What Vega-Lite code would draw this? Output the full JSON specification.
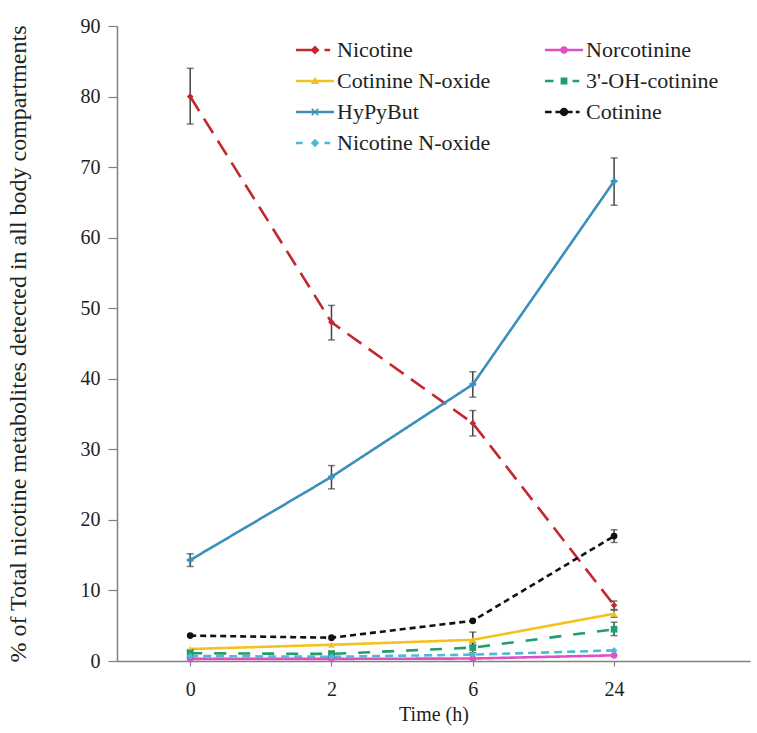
{
  "$schema": "https://vega.github.io/schema/vega-lite/v6.json",
  "width": 633,
  "height": 635,
  "autosize": {"type": "none"},
  "padding": {"left": 117, "top": 26, "right": 7, "bottom": 72},
  "background": "white",
  "config": {
    "view": {"stroke": null},
    "font": "Liberation Serif",
    "axis": {"labelFont": "Liberation Serif", "titleFont": "Liberation Serif", "labelColor": "#222", "titleColor": "#222", "titleFontWeight": "normal", "domainColor": "#808080", "domainWidth": 1.5, "tickColor": "#808080", "tickWidth": 1.2, "grid": false}
  },
  "datasets": {
    "pts": [
      {"series": "Nicotine", "time": "0", "value": 80.0, "lo": 76.1, "hi": 84.0},
      {"series": "Nicotine", "time": "2", "value": 48.0, "lo": 45.5, "hi": 50.4},
      {"series": "Nicotine", "time": "6", "value": 33.7, "lo": 31.9, "hi": 35.5},
      {"series": "Nicotine", "time": "24", "value": 7.9, "lo": 7.3, "hi": 8.5},
      {"series": "Norcotinine", "time": "0", "value": 0.3, "lo": null, "hi": null},
      {"series": "Norcotinine", "time": "2", "value": 0.3, "lo": null, "hi": null},
      {"series": "Norcotinine", "time": "6", "value": 0.35, "lo": null, "hi": null},
      {"series": "Norcotinine", "time": "24", "value": 0.8, "lo": null, "hi": null},
      {"series": "Cotinine N-oxide", "time": "0", "value": 1.7, "lo": null, "hi": null},
      {"series": "Cotinine N-oxide", "time": "2", "value": 2.3, "lo": null, "hi": null},
      {"series": "Cotinine N-oxide", "time": "6", "value": 3.0, "lo": 2.2, "hi": 4.1},
      {"series": "Cotinine N-oxide", "time": "24", "value": 6.7, "lo": 6.2, "hi": 7.2},
      {"series": "3'-OH-cotinine", "time": "0", "value": 1.1, "lo": 0.5, "hi": 1.6},
      {"series": "3'-OH-cotinine", "time": "2", "value": 1.0, "lo": 0.6, "hi": 1.4},
      {"series": "3'-OH-cotinine", "time": "6", "value": 1.9, "lo": 1.2, "hi": 2.6},
      {"series": "3'-OH-cotinine", "time": "24", "value": 4.5, "lo": 3.6, "hi": 5.5},
      {"series": "HyPyBut", "time": "0", "value": 14.3, "lo": 13.4, "hi": 15.2},
      {"series": "HyPyBut", "time": "2", "value": 26.1, "lo": 24.4, "hi": 27.7},
      {"series": "HyPyBut", "time": "6", "value": 39.2, "lo": 37.4, "hi": 41.0},
      {"series": "HyPyBut", "time": "24", "value": 68.0, "lo": 64.6, "hi": 71.3},
      {"series": "Cotinine", "time": "0", "value": 3.6, "lo": null, "hi": null},
      {"series": "Cotinine", "time": "2", "value": 3.3, "lo": null, "hi": null},
      {"series": "Cotinine", "time": "6", "value": 5.7, "lo": null, "hi": null},
      {"series": "Cotinine", "time": "24", "value": 17.7, "lo": 16.8, "hi": 18.6},
      {"series": "Nicotine N-oxide", "time": "0", "value": 0.7, "lo": null, "hi": null},
      {"series": "Nicotine N-oxide", "time": "2", "value": 0.6, "lo": null, "hi": null},
      {"series": "Nicotine N-oxide", "time": "6", "value": 0.9, "lo": null, "hi": null},
      {"series": "Nicotine N-oxide", "time": "24", "value": 1.5, "lo": null, "hi": null}
    ]
  },
  "data": {"name": "pts"},
  "encoding": {
    "x": {"field": "time", "type": "ordinal", "scale": {"type": "point", "domain": ["0", "2", "6", "24"], "padding": 0.74, "align": 0.35}, "axis": {"title": "Time (h)", "labelAngle": 0, "labelFontSize": 20, "titleFontSize": 20, "labelPadding": 13, "titlePadding": 5, "tickSize": 5}}
  },
  "layer": [
    {
      "mark": {"type": "line", "strokeWidth": 2.6},
      "encoding": {
        "y": {"field": "value", "type": "quantitative", "scale": {"domain": [0, 90], "nice": false}, "axis": {"title": "% of  Total nicotine metabolites detected in all body compartments", "values": [0, 10, 20, 30, 40, 50, 60, 70, 80, 90], "labelFontSize": 20, "titleFontSize": 24, "tickSize": 9, "labelPadding": 8, "titlePadding": 50}},
        "color": {"field": "series", "type": "nominal", "legend": null, "scale": {"domain": ["Nicotine", "Cotinine N-oxide", "HyPyBut", "Nicotine N-oxide", "Norcotinine", "3'-OH-cotinine", "Cotinine"], "range": ["#c4282e", "#f4c21c", "#3b8fbd", "#48bcd6", "#e050c4", "#1f9e6e", "#111111"]}},
        "strokeDash": {"field": "series", "type": "nominal", "legend": null, "scale": {"domain": ["Nicotine", "Cotinine N-oxide", "HyPyBut", "Nicotine N-oxide", "Norcotinine", "3'-OH-cotinine", "Cotinine"], "range": [[17, 9], [1, 0], [1, 0], [8, 5], [1, 0], [12, 12], [6, 4]]}}
      }
    },
    {
      "transform": [{"filter": "datum.lo != null"}],
      "mark": {"type": "rule", "color": "#444444", "strokeWidth": 1.5},
      "encoding": {
        "y": {"field": "lo", "type": "quantitative"},
        "y2": {"field": "hi"}
      }
    },
    {
      "transform": [{"filter": "datum.lo != null"}],
      "mark": {"type": "tick", "color": "#444444", "thickness": 1.5, "size": 7, "orient": "horizontal"},
      "encoding": {"y": {"field": "lo", "type": "quantitative"}}
    },
    {
      "transform": [{"filter": "datum.lo != null"}],
      "mark": {"type": "tick", "color": "#444444", "thickness": 1.5, "size": 7, "orient": "horizontal"},
      "encoding": {"y": {"field": "hi", "type": "quantitative"}}
    },
    {
      "mark": {"type": "point", "filled": true, "opacity": 1, "size": 45},
      "encoding": {
        "y": {"field": "value", "type": "quantitative"},
        "color": {"field": "series", "type": "nominal", "legend": null, "scale": {"domain": ["Nicotine", "Cotinine N-oxide", "HyPyBut", "Nicotine N-oxide", "Norcotinine", "3'-OH-cotinine", "Cotinine"], "range": ["#c4282e", "#f4c21c", "#3b8fbd", "#48bcd6", "#e050c4", "#1f9e6e", "#111111"]}},
        "shape": {"field": "series", "type": "nominal", "legend": null, "scale": {"domain": ["Nicotine", "Cotinine N-oxide", "HyPyBut", "Nicotine N-oxide", "Norcotinine", "3'-OH-cotinine", "Cotinine"], "range": ["diamond", "triangle-up", "cross", "diamond", "circle", "square", "circle"]}}
      }
    },
    {
      "transform": [{"filter": "false"}],
      "mark": {"type": "point", "filled": true, "opacity": 1, "size": 1444},
      "encoding": {
        "y": {"field": "value", "type": "quantitative"},
        "color": {"field": "series", "type": "nominal", "scale": {"domain": ["Nicotine", "Cotinine N-oxide", "HyPyBut", "Nicotine N-oxide", "Norcotinine", "3'-OH-cotinine", "Cotinine"], "range": ["#c4282e", "#f4c21c", "#3b8fbd", "#48bcd6", "#e050c4", "#1f9e6e", "#111111"]}, "legend": {"title": null, "orient": "none", "legendX": 178, "legendY": 4, "columns": 2, "columnPadding": 53, "rowPadding": -12, "symbolSize": 1444, "labelFont": "Liberation Serif", "labelFontSize": 22, "labelColor": "#222", "labelOffset": 2, "labelLimit": 300}},
        "shape": {"field": "series", "type": "nominal", "scale": {"domain": ["Nicotine", "Cotinine N-oxide", "HyPyBut", "Nicotine N-oxide", "Norcotinine", "3'-OH-cotinine", "Cotinine"], "range": [
          "M-1,-0.07H0V0.07H-1ZM0,-0.24L0.24,0L0,0.24L-0.24,0ZM0.5,-0.07H0.8V0.07H0.5Z",
          "M-1,-0.06H1V0.06H-1ZM0,-0.22L0.22,0.16H-0.22Z",
          "M-1,-0.07H1V0.07H-1ZM-0.2,-0.14L-0.14,-0.2L0.2,0.14L0.14,0.2ZM0.14,-0.2L0.2,-0.14L-0.14,0.2L-0.2,0.14Z",
          "M-1,-0.07H-0.65V0.07H-1ZM0,-0.22L0.22,0L0,0.22L-0.22,0ZM0.5,-0.07H0.8V0.07H0.5Z",
          "M-1,-0.06H1V0.06H-1ZM-0.2,0A0.2,0.2,0,1,1,0.2,0A0.2,0.2,0,1,1,-0.2,0Z",
          "M-1,-0.07H-0.55V0.07H-1ZM-0.18,-0.18H0.18V0.18H-0.18ZM0.45,-0.07H0.8V0.07H0.45Z",
          "M-1,-0.07H-0.65V0.07H-1ZM-0.45,-0.07H0.45V0.07H-0.45ZM-0.22,0A0.22,0.22,0,1,1,0.22,0A0.22,0.22,0,1,1,-0.22,0ZM0.62,-0.07H0.82V0.07H0.62Z"
        ]}}
      }
    }
  ],
  "resolve": {"scale": {"color": "independent", "shape": "independent"}, "legend": {"color": "independent", "shape": "independent"}}
}
